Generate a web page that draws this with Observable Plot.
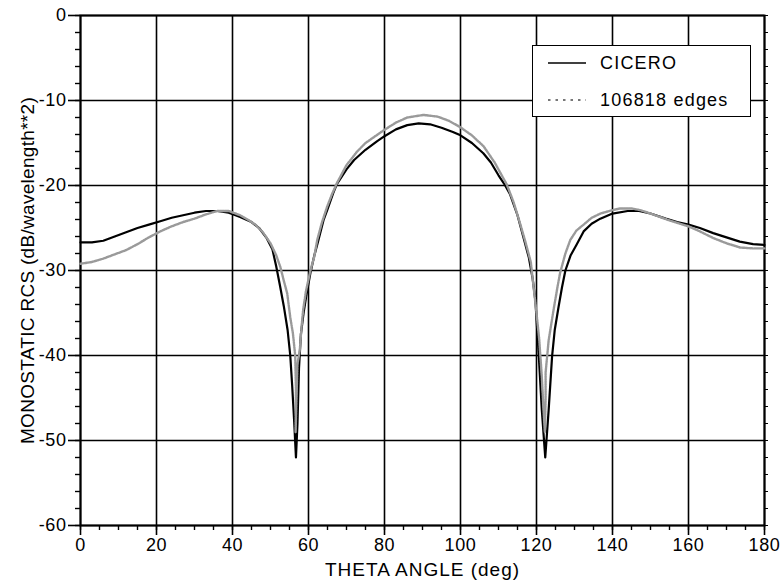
<!DOCTYPE html>
<html>
<head>
<meta charset="utf-8">
<script src="https://cdn.jsdelivr.net/npm/d3@7"></script>
<script src="https://cdn.jsdelivr.net/npm/@observablehq/plot@0.6"></script>
<style>
  html, body { margin: 0; padding: 0; background: #fff; }
  #wrap { position: relative; width: 780px; height: 580px; font-family: "Liberation Sans", Arial, Helvetica, sans-serif; }
  #wrap svg text { letter-spacing: 0.6px; }
  #legend { position: absolute; left: 532px; top: 45px; width: 217px; height: 70px; border: 1.6px solid #000; background: #fff; }
  .row { position: absolute; left: 0; height: 22px; display: flex; align-items: center; font-size: 18px; letter-spacing: 1.2px; color: #000; }
  .row svg { margin-left: 15px; margin-right: 14px; }
</style>
</head>
<body>
<div id="wrap"></div>
<script>
// ---- data ----
const seriesNames = ["CICERO", "106818 edges"];
const xTicks = [0, 20, 40, 60, 80, 100, 120, 140, 160, 180];
const yTicks = [-60, -50, -40, -30, -20, -10, 0];
const xTitle = "THETA ANGLE (deg)";
const yTitle = "MONOSTATIC RCS (dB/wavelength**2)";

const ciceroTheta = [0, 3, 6, 9, 12, 15, 18, 21, 24, 27, 30, 33, 36, 39, 42, 45, 47, 49, 50.5, 51.5, 52.5, 53.5, 54.5, 55.2, 55.7, 56.2, 56.7, 57.1, 57.5, 58.0, 58.7, 59.4, 60.5, 61.5, 62.5, 64, 65, 66.5, 67.5, 70, 72, 75, 78, 80, 83, 86, 89, 92, 95, 98, 100, 103, 106, 108, 110, 111.5, 113, 115, 116.5, 118, 119, 119.7, 120.6, 121.4, 122.3, 123.2, 124.1, 124.8, 125.8, 126.7, 127.6, 129, 130.5, 132.4, 134.5, 136.8, 140, 144, 147, 150, 154, 157, 160, 163, 166.5, 170, 173.5, 177, 180];
const ciceroRcs = [-26.7, -26.7, -26.5, -26.0, -25.5, -25.0, -24.6, -24.2, -23.8, -23.5, -23.2, -23.0, -23.0, -23.2, -23.7, -24.3, -25.0, -26.2, -27.5, -29.5, -31.8, -34.2, -37.0, -40.0, -43.5, -47.5, -52.0, -48.0, -41.5, -37.5, -35.0, -33.0, -30.3, -28.3, -26.6, -24.0, -22.8, -20.9, -19.8, -18.1, -17.0, -15.8, -14.8, -14.2, -13.4, -12.9, -12.7, -12.8, -13.2, -13.7, -14.1, -15.0, -16.2, -17.3, -18.8, -19.8, -21.0, -23.5, -26.0, -28.5, -31.0, -33.5, -40.0, -46.4, -52.0, -46.4, -40.1, -37.0, -34.3, -32.0, -30.0, -28.2, -27.0, -25.4, -24.5, -23.9, -23.3, -23.0, -23.0, -23.3, -23.9, -24.3, -24.6, -25.0, -25.6, -26.1, -26.6, -26.9, -27.0];

const edgesTheta = [0, 3, 6, 9, 12, 15, 18, 21, 24, 27, 30, 33, 36, 39, 42, 44, 46, 48, 50, 51.5, 52.6, 53.5, 54.4, 55.2, 55.9, 56.5, 56.7, 56.6, 56.9, 57.1, 57.7, 58.2, 58.6, 59.3, 60.5, 61.5, 62.3, 63.5, 64.9, 66.2, 67.5, 70, 72.8, 75, 79.8, 83, 86, 90.3, 94, 97, 99.8, 103, 106.1, 109, 112.2, 114, 115.7, 117, 118.5, 119.9, 120.7, 121.4, 121.8, 122.2, 122.4, 122.4, 123.2, 124.5, 125.5, 126.2, 127.6, 128.9, 130.5, 132.4, 134.5, 136.8, 140, 142, 145, 147.3, 150, 154.3, 157, 160, 163, 166.6, 170, 173.6, 177, 180];
const edgesRcs = [-29.2, -29.0, -28.6, -28.1, -27.6, -26.9, -26.1, -25.4, -24.8, -24.3, -23.9, -23.4, -23.0, -23.0, -23.5, -24.0, -24.6, -25.5, -26.8, -28.2, -29.6, -31.2, -32.7, -35.5, -37.4, -40.0, -44.0, -49.0, -44.0, -41.0, -39.4, -36.5, -34.6, -32.5, -30.0, -28.4, -26.4, -24.4, -22.5, -21.0, -19.7, -17.6, -16.0, -15.0, -13.5, -12.6, -12.0, -11.7, -11.9, -12.4, -13.1, -14.1, -15.4, -17.3, -19.9, -22.0, -24.5, -26.5, -29.0, -34.6, -38.0, -42.5, -46.0, -49.0, -45.0, -42.0, -38.2, -34.6, -32.0, -30.3, -28.0, -26.4, -25.3, -24.6, -23.8, -23.3, -22.9, -22.7, -22.7, -22.9, -23.3, -24.0, -24.4, -24.8, -25.4, -26.2, -26.8, -27.3, -27.4, -27.4];

const cicero = ciceroTheta.map((t, i) => ({theta: t, rcs: ciceroRcs[i]}));
const edges = edgesTheta.map((t, i) => ({theta: t, rcs: edgesRcs[i]}));

const solidStyle = {stroke: "#000", strokeWidth: 2.2};
const dotStyle = {stroke: "#9a9a9a", strokeWidth: 2.4, strokeDasharray: "1.5,1"};
const legendStyles = [
  {stroke: "#000", width: 1.6, dash: null},
  {stroke: "#777", width: 1.8, dash: "2.5,5"}
];
const font = "Liberation Sans, Arial, Helvetica, sans-serif";
const fmt = d => String(d);

const chart = Plot.plot({
  width: 780,
  height: 580,
  marginLeft: 80,
  marginRight: 16,
  marginTop: 15,
  marginBottom: 55,
  style: {fontFamily: font, fontSize: "18px", color: "#000", background: "#fff"},
  x: {domain: [0, 180], label: null},
  y: {domain: [-60, 0], label: null},
  marks: [
    Plot.gridX({ticks: xTicks, stroke: "#000", strokeOpacity: 1, strokeWidth: 1.6}),
    Plot.gridY({ticks: yTicks, stroke: "#000", strokeOpacity: 1, strokeWidth: 1.6}),
    Plot.axisX({ticks: d3.range(0, 181, 5), tickSize: 5, tickFormat: () => "", label: null, strokeWidth: 1.4}),
    Plot.axisX({ticks: xTicks, tickSize: 10, tickPadding: 3, tickFormat: fmt, fontSize: 18, label: null, strokeWidth: 1.6}),
    Plot.axisY({ticks: d3.range(-60, 1, 2), tickSize: 5, tickFormat: () => "", label: null, strokeWidth: 1.4}),
    Plot.axisY({ticks: yTicks, tickSize: 12, tickPadding: 2, tickFormat: fmt, fontSize: 18, label: null, strokeWidth: 1.6}),
    Plot.axisY({anchor: "right", ticks: d3.range(-60, 1, 2), tickSize: 3, tickFormat: () => "", label: null, strokeWidth: 1}),
    Plot.frame({stroke: "#000", strokeWidth: 2}),
    Plot.line(cicero, {x: "theta", y: "rcs", ...solidStyle}),
    Plot.line(edges, {x: "theta", y: "rcs", ...dotStyle}),
    Plot.text([xTitle], {frameAnchor: "bottom", dy: 50, fontSize: 19, fill: "#000", textAnchor: "middle"}),
    Plot.text([yTitle], {frameAnchor: "left", dx: -53, rotate: -90, fontSize: 19, fill: "#000", textAnchor: "middle"})
  ]
});

const wrap = document.getElementById("wrap");
wrap.appendChild(chart);
d3.select(chart).selectAll("text").filter(function () { return this.textContent === xTitle; }).style("letter-spacing", "1px");
d3.select(chart).selectAll("text").filter(function () { return this.textContent === yTitle; }).style("letter-spacing", "0.3px");

// legend overlay
const legend = document.createElement("div");
legend.id = "legend";
seriesNames.forEach((name, i) => {
  const row = document.createElement("div");
  row.className = "row";
  row.style.top = (i === 0 ? 6 : 43) + "px";
  const s = legendStyles[i];
  row.innerHTML = `<svg width="38" height="10"><line x1="0" x2="38" y1="5" y2="5" stroke="${s.stroke}" stroke-width="${s.width}" ${s.dash ? `stroke-dasharray="${s.dash}"` : ""}/></svg><span>${name}</span>`;
  legend.appendChild(row);
});
wrap.appendChild(legend);
</script>
</body>
</html>
